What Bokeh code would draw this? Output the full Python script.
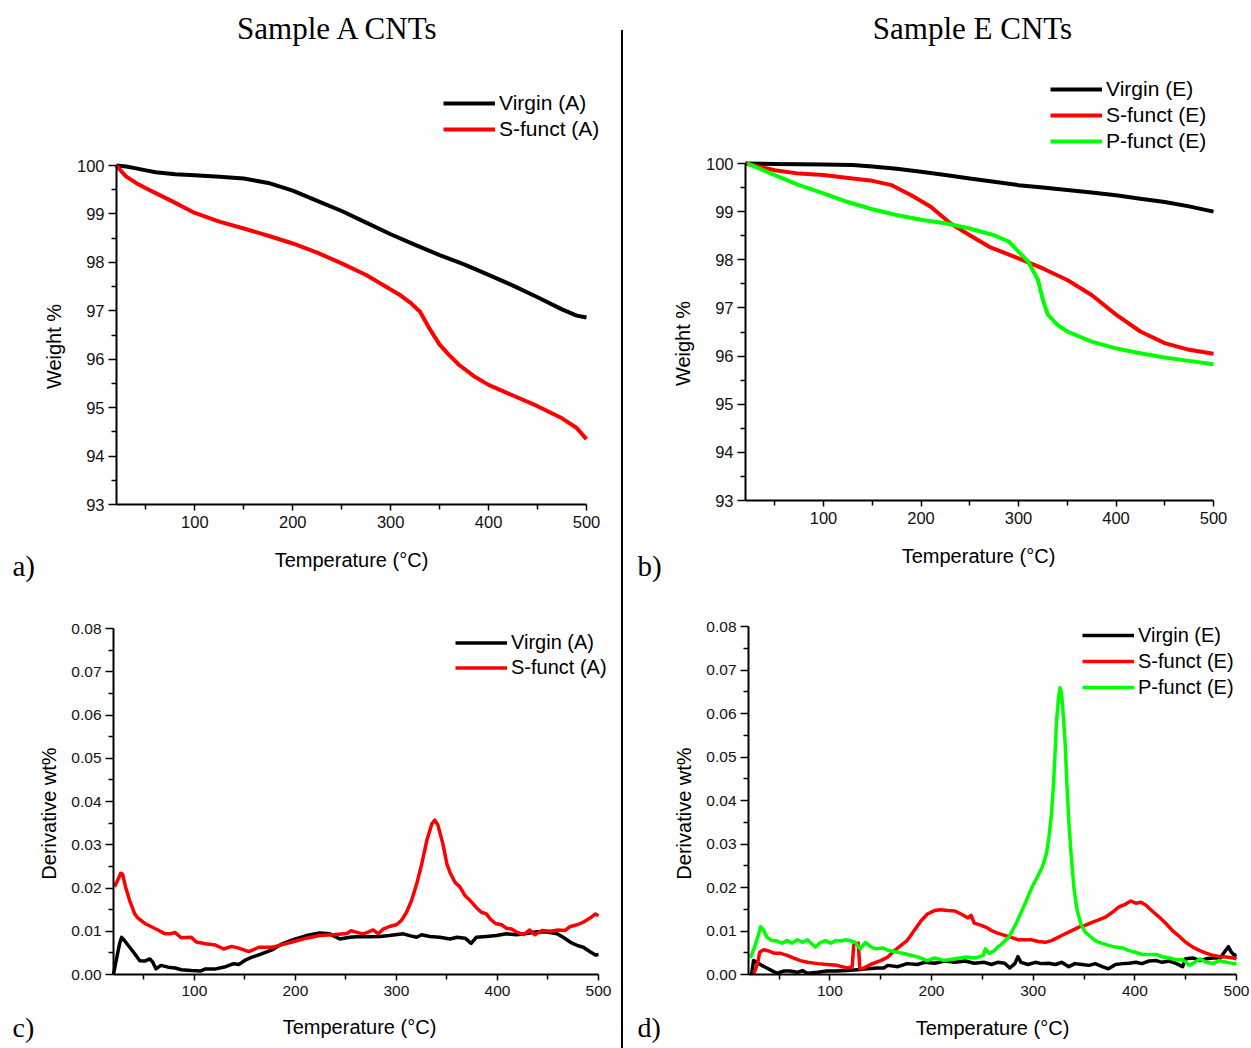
import math
from bokeh.plotting import figure
from bokeh.models import (Range1d, FixedTicker, NumeralTickFormatter, Legend, LegendItem,
                          Label, Div, Spacer)
from bokeh.layouts import row, column
from bokeh.embed import file_html
from bokeh.resources import INLINE

# ---------------- data ----------------
# TGA, sample A
tga_a_virgin_T = [20, 30, 40, 50, 60, 70, 80, 100, 125, 150, 175, 200, 225, 250, 275, 300, 325, 350, 375, 400, 425, 450, 475, 490, 500]
tga_a_virgin_W = [100.0, 99.98, 99.94, 99.9, 99.86, 99.84, 99.82, 99.8, 99.77, 99.73, 99.64, 99.48, 99.27, 99.06, 98.82, 98.58, 98.36, 98.15, 97.96, 97.74, 97.52, 97.28, 97.03, 96.9, 96.86]
tga_a_sfunct_T = [20, 25, 30, 40, 50, 60, 75, 100, 125, 150, 175, 200, 225, 250, 275, 300, 310, 320, 330, 340, 350, 360, 370, 385, 400, 425, 450, 475, 490, 500]
tga_a_sfunct_W = [100.0, 99.88, 99.77, 99.64, 99.53, 99.43, 99.28, 99.02, 98.84, 98.70, 98.55, 98.39, 98.2, 97.98, 97.74, 97.44, 97.32, 97.17, 96.98, 96.62, 96.3, 96.08, 95.88, 95.65, 95.47, 95.25, 95.03, 94.78, 94.58, 94.35]

# TGA, sample E
tga_e_virgin_T = [20, 50, 100, 130, 150, 175, 200, 225, 250, 275, 300, 325, 350, 375, 400, 425, 450, 475, 500]
tga_e_virgin_W = [100.0, 99.99, 99.98, 99.97, 99.94, 99.89, 99.83, 99.76, 99.69, 99.62, 99.55, 99.5, 99.45, 99.4, 99.34, 99.27, 99.2, 99.11, 99.0]
tga_e_sfunct_T = [20, 35, 50, 75, 100, 130, 150, 170, 190, 210, 230, 250, 270, 300, 325, 350, 375, 400, 425, 450, 475, 500]
tga_e_sfunct_W = [100.0, 99.93, 99.86, 99.79, 99.76, 99.69, 99.64, 99.55, 99.34, 99.1, 98.76, 98.51, 98.27, 98.03, 97.82, 97.58, 97.27, 96.86, 96.51, 96.27, 96.13, 96.05]
tga_e_pfunct_T = [22, 50, 75, 100, 125, 150, 175, 200, 225, 250, 275, 290, 300, 310, 320, 325, 330, 340, 350, 375, 400, 425, 450, 475, 500]
tga_e_pfunct_W = [100.0, 99.76, 99.55, 99.38, 99.2, 99.05, 98.93, 98.83, 98.76, 98.65, 98.51, 98.38, 98.17, 97.96, 97.58, 97.17, 96.86, 96.65, 96.51, 96.3, 96.16, 96.06, 95.97, 95.9, 95.83]

# DTG, sample A
dtg_a_virgin_T = [20, 22, 26, 28, 31, 36, 41, 46, 51, 56, 59, 62, 67, 74, 81, 87, 97, 106, 111, 121, 131, 139, 144, 151, 157, 167, 177, 187, 197, 211, 224, 234, 244, 254, 264, 273, 284, 293, 307, 313, 320, 325, 333, 343, 353, 360, 368, 374, 379, 389, 399, 409, 419, 429, 439, 449, 459, 465, 472, 479, 485, 492, 497, 500]
dtg_a_virgin_V = [0.0, 0.0025, 0.0071, 0.0086, 0.0078, 0.0063, 0.0048, 0.0032, 0.0031, 0.0036, 0.0028, 0.0013, 0.0021, 0.0017, 0.0015, 0.0011, 0.0009, 0.0008, 0.0013, 0.0013, 0.0018, 0.0025, 0.0023, 0.0034, 0.004, 0.0048, 0.0057, 0.0071, 0.008, 0.009, 0.0096, 0.0094, 0.0082, 0.0086, 0.0088, 0.0087, 0.0088, 0.009, 0.0094, 0.009, 0.0086, 0.0092, 0.0088, 0.0086, 0.0082, 0.0086, 0.0084, 0.0072, 0.0086, 0.0088, 0.009, 0.0094, 0.0092, 0.0095, 0.0099, 0.0098, 0.0094, 0.0086, 0.0075, 0.0067, 0.0063, 0.0052, 0.0045, 0.0046]
dtg_a_sfunct_T = [21, 24, 27, 29, 32, 36, 41, 44, 51, 57, 64, 71, 76, 81, 87, 97, 102, 111, 121, 129, 137, 144, 154, 164, 177, 187, 197, 211, 224, 237, 251, 255, 260, 267, 272, 277, 282, 287, 293, 300, 305, 310, 315, 320, 325, 330, 335, 338, 341, 346, 350, 353, 358, 363, 368, 373, 379, 384, 389, 393, 398, 404, 409, 414, 419, 426, 432, 437, 444, 452, 460, 467, 472, 479, 485, 492, 497, 500]
dtg_a_sfunct_V = [0.0203, 0.0217, 0.0234, 0.0232, 0.0202, 0.0171, 0.014, 0.0131, 0.0118, 0.0111, 0.0103, 0.0094, 0.0094, 0.0097, 0.0085, 0.0086, 0.0075, 0.0071, 0.0068, 0.0059, 0.0065, 0.0061, 0.0053, 0.0063, 0.0063, 0.0069, 0.0075, 0.0084, 0.009, 0.0092, 0.0095, 0.0101, 0.0098, 0.0094, 0.0098, 0.0103, 0.0094, 0.0105, 0.0111, 0.0115, 0.0125, 0.0144, 0.0171, 0.0209, 0.0255, 0.0309, 0.0348, 0.0357, 0.0346, 0.0302, 0.0255, 0.0236, 0.0213, 0.0202, 0.0182, 0.0171, 0.0155, 0.0144, 0.014, 0.0128, 0.0118, 0.0115, 0.0107, 0.0105, 0.0098, 0.0092, 0.0103, 0.0092, 0.0102, 0.01, 0.0103, 0.0102, 0.0111, 0.0115, 0.0121, 0.0131, 0.014, 0.0136]

# DTG, sample E
dtg_e_virgin_T = [23, 25, 28, 33, 38, 43, 48, 55, 61, 68, 73, 78, 88, 97, 107, 117, 127, 137, 147, 153, 157, 167, 176, 186, 193, 203, 213, 223, 233, 242, 252, 259, 265, 272, 277, 282, 285, 288, 295, 302, 308, 315, 322, 328, 335, 341, 348, 355, 361, 368, 374, 381, 388, 394, 401, 407, 414, 421, 427, 434, 441, 447, 450, 457, 464, 470, 477, 484, 488, 492, 495, 498, 500]
dtg_e_virgin_V = [0.0, 0.0032, 0.0028, 0.0021, 0.0015, 0.0009, 0.0003, 0.0008, 0.0008, 0.0005, 0.0009, 0.0003, 0.0005, 0.0008, 0.0008, 0.0009, 0.0011, 0.0013, 0.0015, 0.0015, 0.0021, 0.0018, 0.0025, 0.0023, 0.0028, 0.0026, 0.0031, 0.0028, 0.0031, 0.0026, 0.0028, 0.0023, 0.0028, 0.0026, 0.0015, 0.0025, 0.0041, 0.0028, 0.0023, 0.0028, 0.0025, 0.0026, 0.0023, 0.0028, 0.0018, 0.0025, 0.0023, 0.0021, 0.0025, 0.0018, 0.0013, 0.0023, 0.0025, 0.0026, 0.0028, 0.0025, 0.0031, 0.0032, 0.0028, 0.0031, 0.0025, 0.0018, 0.0036, 0.0038, 0.0032, 0.0036, 0.0038, 0.0038, 0.0051, 0.0064, 0.0051, 0.0044, 0.0046]
dtg_e_sfunct_T = [25, 29, 31, 35, 40, 45, 51, 58, 64, 71, 78, 88, 97, 107, 117, 122, 123.5, 128, 129.5, 132, 140, 150, 157, 163, 170, 176, 183, 190, 196, 203, 209, 216, 223, 229, 236, 239, 242, 249, 255, 259, 265, 272, 279, 285, 292, 298, 305, 312, 318, 325, 331, 338, 345, 351, 358, 365, 371, 378, 384, 391, 396, 401, 406, 411, 417, 424, 431, 437, 444, 450, 457, 464, 470, 477, 484, 490, 497, 500]
dtg_e_sfunct_V = [0.0, 0.0026, 0.0051, 0.0057, 0.0054, 0.0049, 0.0049, 0.0044, 0.0038, 0.0032, 0.0028, 0.0025, 0.0023, 0.0021, 0.0015, 0.0018, 0.0068, 0.0072, 0.0013, 0.0013, 0.0023, 0.0032, 0.004, 0.0054, 0.0067, 0.0078, 0.0101, 0.0124, 0.0139, 0.0147, 0.0149, 0.0147, 0.0146, 0.0139, 0.013, 0.0136, 0.0118, 0.0113, 0.0107, 0.0101, 0.0095, 0.009, 0.0085, 0.008, 0.008, 0.008, 0.0076, 0.0074, 0.0078, 0.0086, 0.0093, 0.0101, 0.0109, 0.0113, 0.012, 0.0126, 0.0132, 0.0143, 0.0155, 0.0162, 0.0169, 0.0164, 0.0166, 0.0159, 0.0146, 0.0132, 0.0116, 0.0101, 0.0087, 0.0074, 0.0063, 0.0055, 0.0049, 0.0044, 0.0041, 0.004, 0.0038, 0.0036]
dtg_e_pfunct_T = [22, 26.5, 30, 32, 35, 38, 43, 48, 53, 58, 63, 68, 73, 78, 83, 86, 91, 96, 101, 106, 111, 116, 121, 125, 130, 135, 140, 145, 152, 158, 167, 177, 187, 196, 203, 213, 223, 233, 243, 251, 253, 257, 262, 265, 269, 276, 283, 290, 296, 299, 304, 309, 313, 315.5, 318, 320, 321.5, 323, 325, 326.5, 328, 329.5, 331.5, 333, 335, 337.5, 340, 343, 347, 351, 356, 361, 367, 374, 381, 388, 394, 401, 407, 414, 421, 427, 434, 440, 447, 454, 459, 464, 470, 477, 483, 490, 497, 500]
dtg_e_pfunct_V = [0.0038, 0.0067, 0.0093, 0.011, 0.0101, 0.0086, 0.0078, 0.0077, 0.0072, 0.0078, 0.0072, 0.008, 0.0074, 0.008, 0.0069, 0.0063, 0.0074, 0.0078, 0.0072, 0.0078, 0.0077, 0.008, 0.0077, 0.0074, 0.0059, 0.0074, 0.0064, 0.0059, 0.0061, 0.0055, 0.0051, 0.0046, 0.004, 0.0032, 0.0038, 0.0032, 0.0036, 0.004, 0.0038, 0.0044, 0.0059, 0.0049, 0.0055, 0.0063, 0.007, 0.0086, 0.0116, 0.0152, 0.0185, 0.0201, 0.0224, 0.0247, 0.0277, 0.0316, 0.0369, 0.0438, 0.0507, 0.0584, 0.0638, 0.0659, 0.0645, 0.0599, 0.053, 0.0446, 0.0354, 0.027, 0.0201, 0.015, 0.0116, 0.0098, 0.0088, 0.0078, 0.0072, 0.0067, 0.0063, 0.0061, 0.0055, 0.0051, 0.0046, 0.0046, 0.0046, 0.0041, 0.0038, 0.0034, 0.0034, 0.0021, 0.0028, 0.0036, 0.0028, 0.0025, 0.0032, 0.0028, 0.0025, 0.0026]

x_ticks = [100, 200, 300, 400, 500]
x_minor = [50, 150, 250, 350, 450]
tga_ticks = [93, 94, 95, 96, 97, 98, 99, 100]
tga_minor = [93.5, 94.5, 95.5, 96.5, 97.5, 98.5, 99.5]
dtg_ticks = [0.0, 0.01, 0.02, 0.03, 0.04, 0.05, 0.06, 0.07, 0.08]
dtg_minor = [0.005, 0.015, 0.025, 0.035, 0.045, 0.055, 0.065, 0.075]

X_LIM = (20, 500)
TGA_LIM = (93, 100)
DTG_LIM = (0, 0.08)

BLACK = "#000000"
RED = "#ff0000"
GREEN = "#00ff00"
SANS = "Liberation Sans"
SERIF = "Liberation Serif"


class Panel:
    """A figure whose frame fills the whole figure; axes drawn at fixed data locations."""

    def __init__(self, w, h, px_x0, px_x1, px_y0, px_y1, xlim, ylim, yticks, yminor, tick_fs, fmt=None):
        # px_x0/px_x1: screen x of xlim[0]/xlim[1]; px_y0/px_y1: screen y (from top) of ylim[0]/ylim[1]
        self.w, self.h = w, h
        ux = (xlim[1] - xlim[0]) / (px_x1 - px_x0)
        uy = (ylim[1] - ylim[0]) / (px_y0 - px_y1)
        self.xr = (xlim[0] - px_x0 * ux, xlim[1] + (w - px_x1) * ux)
        self.yr = (ylim[0] - (h - px_y0) * uy, ylim[1] + px_y1 * uy)
        p = figure(width=w, height=h, x_range=Range1d(*self.xr), y_range=Range1d(*self.yr),
                   min_border_left=0, min_border_right=0, min_border_top=0, min_border_bottom=0,
                   toolbar_location=None, output_backend="svg", outline_line_color=None,
                   background_fill_color="white", border_fill_color="white", frame_align=False)
        p.grid.visible = False
        p.xaxis.ticker = FixedTicker(ticks=x_ticks, minor_ticks=x_minor)
        p.yaxis.ticker = FixedTicker(ticks=yticks, minor_ticks=yminor)
        if fmt:
            p.yaxis.formatter = NumeralTickFormatter(format=fmt)
        p.xaxis.fixed_location = ylim[0]
        p.yaxis.fixed_location = xlim[0]
        p.xaxis.bounds = xlim
        p.yaxis.bounds = ylim
        for ax in (p.xaxis, p.yaxis):
            ax.axis_line_width = 2
            ax.axis_line_color = BLACK
            ax.major_tick_line_width = 1.5
            ax.minor_tick_line_width = 1.5
            ax.major_tick_line_color = BLACK
            ax.minor_tick_line_color = BLACK
            ax.major_tick_in = 0
            ax.minor_tick_in = 0
            ax.major_label_text_font = SANS
            ax.major_label_text_font_size = tick_fs
            ax.major_label_text_color = "#111111"
        p.xaxis.major_tick_out = 6
        p.xaxis.minor_tick_out = 5
        p.yaxis.major_tick_out = 8
        p.yaxis.minor_tick_out = 5
        p.xaxis.major_label_standoff = 5
        p.yaxis.major_label_standoff = 4
        self.p = p

    def data(self, px, py):
        x = self.xr[0] + px / self.w * (self.xr[1] - self.xr[0])
        y = self.yr[1] - py / self.h * (self.yr[1] - self.yr[0])
        return x, y

    def text(self, px, py, text, size, font, align="center", angle=0.0):
        x, y = self.data(px, py)
        self.p.add_layout(Label(x=x, y=y, text=text, text_font=font, text_font_size=size,
                                text_align=align, text_baseline="middle", text_color=BLACK,
                                angle=angle))

    def legend(self, items, left_px, bottom_px, row_h, fs):
        lg = Legend(items=[LegendItem(label=l, renderers=[r]) for l, r in items],
                    location=(left_px, self.h - bottom_px), orientation="vertical",
                    border_line_color=None, background_fill_alpha=0, padding=0, margin=0,
                    spacing=0, glyph_width=52, glyph_height=row_h, label_height=row_h,
                    label_standoff=4, label_text_font=SANS, label_text_font_size=fs,
                    label_text_color=BLACK)
        self.p.add_layout(lg)


XLAB = "Temperature (°C)"

# ---------------- panel a ----------------
A = Panel(621, 585, 116, 586, 504, 165, X_LIM, TGA_LIM, tga_ticks, tga_minor, "16.5px")
ra1 = A.p.line(tga_a_virgin_T, tga_a_virgin_W, line_color=BLACK, line_width=4, line_join="round")
ra2 = A.p.line(tga_a_sfunct_T, tga_a_sfunct_W, line_color=RED, line_width=4, line_join="round")
A.legend([("Virgin (A)", ra1), ("S-funct (A)", ra2)], 443, 142, 26, "21px")
A.text(338, 28, "Sample A CNTs", "31px", SERIF)
A.text(12, 565, "a)", "29px", SERIF, align="left")
A.text(351, 559, XLAB, "20px", SANS)
A.text(53, 346, "Weight %", "20px", SANS, angle=math.pi / 2)

# ---------------- panel b ----------------
B = Panel(628, 585, 122, 590, 500, 163, X_LIM, TGA_LIM, tga_ticks, tga_minor, "16.5px")
rb1 = B.p.line(tga_e_virgin_T, tga_e_virgin_W, line_color=BLACK, line_width=4, line_join="round")
rb2 = B.p.line(tga_e_sfunct_T, tga_e_sfunct_W, line_color=RED, line_width=4, line_join="round")
rb3 = B.p.line(tga_e_pfunct_T, tga_e_pfunct_W, line_color=GREEN, line_width=4, line_join="round")
B.legend([("Virgin (E)", rb1), ("S-funct (E)", rb2), ("P-funct (E)", rb3)], 427, 154, 26, "21px")
B.text(349, 28, "Sample E CNTs", "31px", SERIF)
B.text(14, 565, "b)", "29px", SERIF, align="left")
B.text(355, 555, XLAB, "20px", SANS)
B.text(59, 343, "Weight %", "20px", SANS, angle=math.pi / 2)

# ---------------- panel c ----------------
C = Panel(621, 463, 113, 598, 389, 43, X_LIM, DTG_LIM, dtg_ticks, dtg_minor, "15.5px", fmt="0.00")
rc1 = C.p.line(dtg_a_virgin_T, dtg_a_virgin_V, line_color=BLACK, line_width=3.5, line_join="round")
rc2 = C.p.line(dtg_a_sfunct_T, dtg_a_sfunct_V, line_color=RED, line_width=3.5, line_join="round")
C.legend([("Virgin (A)", rc1), ("S-funct (A)", rc2)], 455, 95, 25, "20px")
C.text(12, 442, "c)", "28px", SERIF, align="left")
C.text(359, 441, XLAB, "20px", SANS)
C.text(48, 228, "Derivative wt%", "20px", SANS, angle=math.pi / 2)

# ---------------- panel d ----------------
D = Panel(628, 463, 125, 613, 389, 41, X_LIM, DTG_LIM, dtg_ticks, dtg_minor, "15.5px", fmt="0.00")
rd1 = D.p.line(dtg_e_virgin_T, dtg_e_virgin_V, line_color=BLACK, line_width=3.5, line_join="round")
rd2 = D.p.line(dtg_e_sfunct_T, dtg_e_sfunct_V, line_color=RED, line_width=3.5, line_join="round")
rd3 = D.p.line(dtg_e_pfunct_T, dtg_e_pfunct_V, line_color=GREEN, line_width=3.5, line_join="round")
D.legend([("Virgin (E)", rd1), ("S-funct (E)", rd2), ("P-funct (E)", rd3)], 459, 115, 26, "20px")
D.text(14, 442, "d)", "28px", SERIF, align="left")
D.text(369, 442, XLAB, "20px", SANS)
D.text(60, 228, "Derivative wt%", "20px", SANS, angle=math.pi / 2)

# ---------------- layout ----------------
divider = Div(text='<div style="width:2px;height:1018px;background:#000;"></div>',
              width=2, height=1018, margin=0)
left_col = column(A.p, C.p, spacing=0)
mid_col = column(Spacer(width=2, height=30, margin=0), divider, spacing=0)
right_col = column(B.p, D.p, spacing=0)
layout = row(left_col, mid_col, right_col, spacing=0)

open("out.html", "w").write(file_html(layout, INLINE, title="TGA"))
